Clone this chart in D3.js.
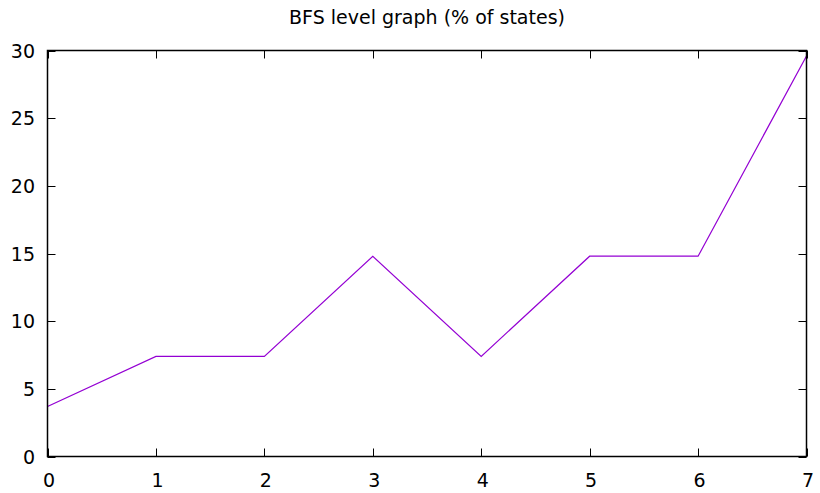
<!DOCTYPE html>
<html><head><meta charset="utf-8">
<script src="https://cdn.jsdelivr.net/npm/d3@7"></script>
<style>body{margin:0;background:#fff}svg{display:block}text{font-family:"DejaVu Sans",sans-serif;fill:#000}</style>
</head><body>
<svg id="c" width="820" height="493"></svg>
<script>
const title = "BFS level graph (% of states)";
const levels = [0, 1, 2, 3, 4, 5, 6, 7];
const percents = [3.7, 7.4, 7.4, 14.8, 7.4, 14.8, 14.8, 29.6];
const xTicks = [0, 1, 2, 3, 4, 5, 6, 7];
const yTicks = [0, 5, 10, 15, 20, 25, 30];

const svg = d3.select("#c");
const L = 47.5, R = 806.5, T = 50.5, B = 456.5;
const x = d3.scaleLinear().domain([0, 7]).range([L, R]);
const y = d3.scaleLinear().domain([0, 30]).range([B, T]);
const tl = 8;

// ticks (mirrored, inward)
const g = svg.append("g").attr("stroke", "#000").attr("stroke-width", 1);
xTicks.forEach(v => {
  const px = Math.round(x(v)) + 0.5;
  g.append("line").attr("x1", px).attr("x2", px).attr("y1", B).attr("y2", B - tl);
  g.append("line").attr("x1", px).attr("x2", px).attr("y1", T).attr("y2", T + tl);
});
yTicks.forEach(v => {
  const py = Math.round(y(v)) + 0.5;
  g.append("line").attr("x1", L).attr("x2", L + tl).attr("y1", py).attr("y2", py);
  g.append("line").attr("x1", R).attr("x2", R - tl).attr("y1", py).attr("y2", py);
});

// tick labels
svg.append("g").selectAll("text").data(xTicks).join("text")
  .attr("x", d => x(d) + 1.5).attr("y", 487).attr("text-anchor", "middle")
  .attr("font-size", 19).text(d => d);
svg.append("g").selectAll("text").data(yTicks).join("text")
  .attr("x", 35).attr("y", d => y(d) + 7).attr("text-anchor", "end")
  .attr("font-size", 19).text(d => d);

// line
svg.append("path").datum(levels.map((l, i) => [l, percents[i]]))
  .attr("fill", "none").attr("stroke", "#9400d3").attr("stroke-width", 1.2)
  .attr("d", d3.line().x(d => x(d[0])).y(d => y(d[1])));

// border
svg.append("rect").attr("x", L).attr("y", T).attr("width", R - L).attr("height", B - T)
  .attr("fill", "none").attr("stroke", "#000").attr("stroke-width", 1.5);

svg.append("text").attr("x", 427).attr("y", 24).attr("text-anchor", "middle")
  .attr("font-size", 19).text(title);
</script>
</body></html>
